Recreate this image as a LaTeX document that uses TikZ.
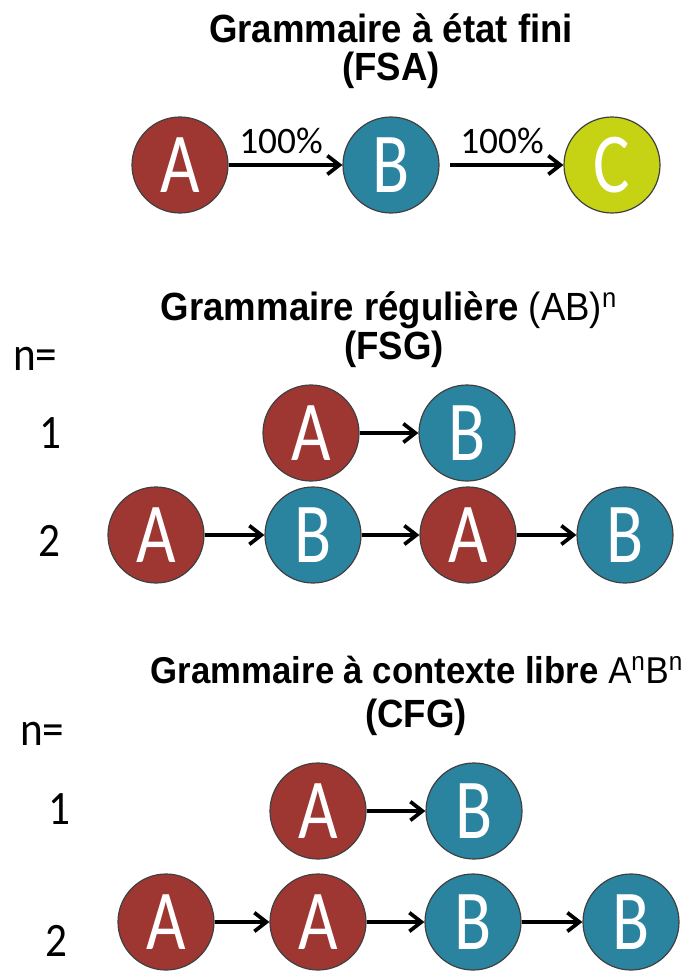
\documentclass[tikz,border=0pt]{standalone}
\usepackage{fontspec}
\setmainfont{Liberation Sans}
\newfontfamily\titlefont[FakeStretch=0.93]{Liberation Sans}
\newfontfamily\calib{Carlito}
\newfontfamily\calibnarrow[FakeStretch=0.9]{Carlito}
\newfontfamily\letterfont[FakeStretch=0.8]{Carlito}
\usetikzlibrary{arrows.meta}
\definecolor{redA}{RGB}{158,54,50}
\definecolor{blueB}{RGB}{42,132,160}
\definecolor{greenC}{RGB}{198,210,20}

\begin{document}
\begin{tikzpicture}[x=0.75pt,y=0.75pt,yscale=-1,xscale=1,
  state/.style={circle,draw=black!75,line width=0.9pt,minimum size=72pt,inner sep=0pt,text=white,font=\letterfont\fontsize{64}{64}\selectfont},
  sa/.style={state,fill=redA},
  sb/.style={state,fill=blueB},
  sc/.style={state,fill=greenC},
  trans/.style={line width=2.8pt,-{Straight Barb[length=9pt,width=14pt]}},
  titre/.style={inner sep=0pt,anchor=base,font=\titlefont\fontsize{29.5}{29.5}\selectfont},
  rowlbl/.style={inner sep=0pt,font=\calibnarrow\fontsize{36}{36}\selectfont},
  pct/.style={inner sep=0pt,anchor=base,font=\calib\fontsize{28}{28}\selectfont}]
\useasboundingbox (0,0) rectangle (691,972);

%%% FSA
% Text Node
\node [titre] (tfsa1) at (391,42) {\bfseries Grammaire à état fini};
\node [titre] (tfsa2) at (391,80) {\bfseries (FSA)};
%Shape: Circle
\node [sa] (fa) at (180,165) {A};
\node [sb] (fb) at (391,165) {B};
\node [sc] (fc) at (612,165) {C};
%Straight Lines
\draw [trans] (fa) -- (fb);
\draw [trans,shorten <=8pt] (fb) -- (fc);
% Text Node
\node [pct] (pab) at (281,153) {100\%};
\node [pct] (pbc) at (502,153) {100\%};

%%% FSG
% Text Node
\node [titre] (tfsg1) at (389,320) {\textbf{Grammaire régulière} (AB)\textsuperscript{n}};
\node [titre] (tfsg2) at (394,359) {\bfseries (FSG)};
\node [rowlbl,anchor=base west] (gn) at (13,370) {n=};
\node [rowlbl] (g1) at (50,433) {1};
\node [rowlbl] (g2) at (49,541) {2};
%Shape: Circle
\node [sa] (ga) at (311,433) {A};
\node [sb] (gb) at (467,433) {B};
\node [sa] (ga1) at (156,535) {A};
\node [sb] (gb1) at (313,535) {B};
\node [sa] (ga2) at (468,535) {A};
\node [sb] (gb2) at (625,535) {B};
%Straight Lines
\draw [trans] (ga) -- (gb);
\draw [trans] (ga1) -- (gb1);
\draw [trans] (gb1) -- (ga2);
\draw [trans] (ga2) -- (gb2);

%%% CFG
% Text Node
\node [titre,font=\titlefont\fontsize{28}{28}\selectfont] (tcfg1) at (417,683) {\textbf{Grammaire à contexte libre} A\textsuperscript{n}B\textsuperscript{n}};
\node [titre] (tcfg2) at (416,727) {\bfseries (CFG)};
\node [rowlbl,anchor=base west] (cn) at (20,745) {n=};
\node [rowlbl] (c1) at (59,809) {1};
\node [rowlbl] (c2) at (56,941) {2};
%Shape: Circle
\node [sa] (ca) at (318,811) {A};
\node [sb] (cb) at (474,811) {B};
\node [sa] (ca1) at (166,922) {A};
\node [sa] (ca2) at (318,922) {A};
\node [sb] (cb1) at (473,922) {B};
\node [sb] (cb2) at (631,922) {B};
%Straight Lines
\draw [trans] (ca) -- (cb);
\draw [trans] (ca1) -- (ca2);
\draw [trans] (ca2) -- (cb1);
\draw [trans] (cb1) -- (cb2);
\end{tikzpicture}
\end{document}
